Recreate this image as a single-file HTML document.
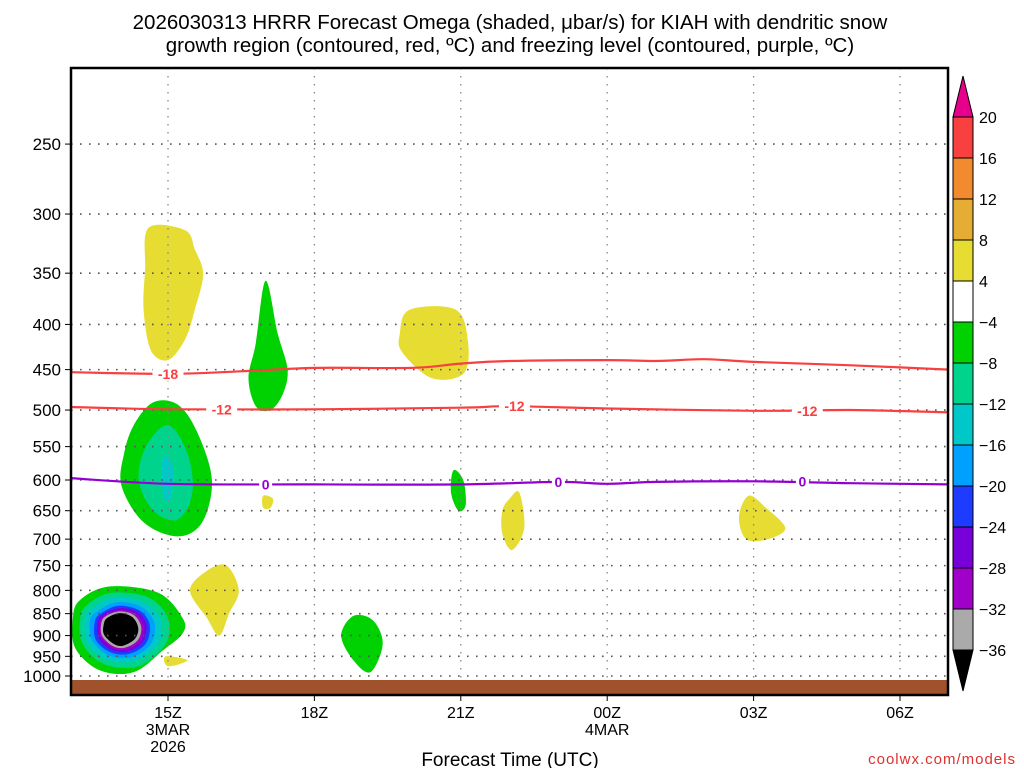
<!DOCTYPE html>
<html><head><meta charset="utf-8"><style>
html,body{margin:0;padding:0;background:#fff;}
svg text{font-family:"Liberation Sans",sans-serif;}
</style></head><body>
<svg id="chart" width="1024" height="768" viewBox="0 0 1024 768" xmlns="http://www.w3.org/2000/svg">
<text x="510" y="29" text-anchor="middle" font-size="20.5" fill="#000">2026030313 HRRR Forecast Omega (shaded, μbar/s) for KIAH with dendritic snow</text>
<text x="510" y="52" text-anchor="middle" font-size="20.5" fill="#000">growth region (contoured, red, ºC) and freezing level (contoured, purple, ºC)</text>
<g id="plot"></g>
<g id="grid"></g>
<g id="lines"></g>
<rect x="71" y="680" width="877" height="15" fill="#a0522d"/>
<rect x="71" y="68" width="877" height="627" fill="none" stroke="#000" stroke-width="2.5"/>
<g id="axes"></g>
<g id="cbar"></g>
<text x="510" y="766" text-anchor="middle" font-size="19" fill="#000">Forecast Time (UTC)</text>
<text x="1016" y="764" text-anchor="end" font-size="15" fill="#e03030" letter-spacing="1">coolwx.com/models</text>
</svg>
<script>
const pressureTicks=[250,300,350,400,450,500,550,600,650,700,750,800,850,900,950,1000];
const hourTicks=[15,18,21,24,27,30];
const hourLabels=["15Z","18Z","21Z","00Z","03Z","06Z"];
const cbarLevels=[20,16,12,8,4,-4,-8,-12,-16,-20,-24,-28,-32,-36];
const cbarColors=["#f94040","#f28a2e","#e6ad34","#e6dc32","#ffffff","#00d100","#00d48c","#00c8c8","#00a0ff","#1e3cff","#7800d8","#a000c8","#aaaaaa"];
// contour lines [hour, hPa]
const line18=[[13,453],[15,455],[16.5,452],[18,448],[20,448],[21,443],[22,440],[24,439],[25,440],[26,438],[27,441],[29,445],[31,450]];
const line12=[[13,496],[15,499],[18,499],[21,497],[22,495],[24,498],[27,501],[29,500],[31,503]];
const line0=[[13,597],[15,606],[18,607],[21,607],[23,603],[24,606],[25,603],[27,602],[29,605],[31,607]];
const lineLabels=[["-18",15,455,"#f94040"],["-12",16.1,499,"#f94040"],["-12",22.1,495,"#f94040"],["-12",28.1,501,"#f94040"],["0",17.0,607,"#9400d3"],["0",23.0,603,"#9400d3"],["0",28.0,602,"#9400d3"]];
// shaded blobs [color, points [hour,hPa]]
const blobs=[
 ["#e6dc32",[[14.6,311],[15.35,313],[15.55,329],[15.72,351],[15.55,385],[15.35,416],[15.0,439],[14.65,428],[14.5,385],[14.53,347]]],
 ["#00d100",[[17.0,357],[17.25,410],[17.45,450],[17.35,480],[17.1,500],[16.8,495],[16.65,460],[16.8,420]]],
 ["#e6dc32",[[19.95,385],[20.9,385],[21.15,420],[21.05,455],[20.4,460],[19.8,430],[19.75,410]]],
 ["#00d100",[[14.3,520],[14.7,490],[15.2,493],[15.6,530],[15.9,600],[15.7,670],[15.2,695],[14.5,670],[14.05,610],[14.1,560]]],
 ["#00d48c",[[14.55,550],[15.0,520],[15.4,560],[15.5,620],[15.2,665],[14.7,650],[14.4,600]]],
 ["#00c8c8",[[14.9,565],[15.1,580],[15.05,630],[14.9,625]]],
 ["#e6dc32",[[16.95,625],[17.15,630],[17.1,645],[16.95,645]]],
 ["#e6dc32",[[15.8,760],[16.2,750],[16.45,800],[16.25,850],[16.05,900],[15.8,860],[15.45,800]]],
 ["#00d100",[[20.85,585],[21.05,600],[21.1,640],[20.95,650],[20.8,620]]],
 ["#e6dc32",[[22.0,630],[22.2,620],[22.3,680],[22.05,720],[21.85,690],[21.85,650]]],
 ["#e6dc32",[[26.9,625],[27.25,645],[27.65,680],[27.3,700],[26.85,700],[26.7,660]]],
 ["#00d100",[[18.8,855],[19.2,865],[19.4,920],[19.15,990],[18.8,960],[18.55,900]]],
 ["#e6dc32",[[14.95,950],[15.4,960],[15.0,975]]],
 ["#00d100",[[13.2,820],[13.8,792],[14.8,805],[15.3,860],[15.3,895],[14.9,935],[14.3,990],[13.6,985],[13.1,930],[13.05,860]]],
 ["#00d48c",[[13.35,830],[13.85,805],[14.6,815],[15.0,860],[14.95,920],[14.4,975],[13.7,970],[13.25,920],[13.2,860]]],
 ["#00c8c8",[[13.45,838],[13.9,815],[14.5,825],[14.85,865],[14.8,920],[14.3,962],[13.75,958],[13.35,915],[13.3,862]]],
 ["#00a0ff",[[13.55,845],[13.95,825],[14.45,835],[14.72,870],[14.65,920],[14.25,952],[13.8,948],[13.45,912],[13.4,865]]],
 ["#1e3cff",[[13.62,850],[13.97,833],[14.4,842],[14.62,873],[14.55,918],[14.2,944],[13.82,940],[13.52,910],[13.5,868]]],
 ["#7800d8",[[13.66,852],[14.0,838],[14.37,846],[14.56,875],[14.48,916],[14.17,938],[13.84,934],[13.58,906],[13.56,870]]],
 ["#a000c8",[[13.69,855],[14.0,842],[14.33,850],[14.5,878],[14.43,913],[14.14,933],[13.86,929],[13.62,903],[13.6,872]]],
 ["#aaaaaa",[[13.71,857],[14.0,845],[14.3,853],[14.45,880],[14.38,911],[14.11,929],[13.87,925],[13.65,901],[13.63,874]]],
 ["#000000",[[13.75,860],[14.0,849],[14.26,857],[14.39,882],[14.32,908],[14.08,924],[13.89,920],[13.69,898],[13.68,876]]]
];
const NS="http://www.w3.org/2000/svg";
function xS(h){return 70.4+(h-13)*48.8;}
function yS(p){return 676-383.7*Math.log(1000/p);}
function mk(tag,attrs,parent){const e=document.createElementNS(NS,tag);for(const k in attrs)e.setAttribute(k,attrs[k]);parent.appendChild(e);return e;}
function smoothClosed(pts){
 const n=pts.length;let d='M'+pts[0][0].toFixed(1)+','+pts[0][1].toFixed(1);
 for(let i=0;i<n;i++){
  const p0=pts[(i-1+n)%n],p1=pts[i],p2=pts[(i+1)%n],p3=pts[(i+2)%n];
  const c1=[p1[0]+(p2[0]-p0[0])/6,p1[1]+(p2[1]-p0[1])/6],c2=[p2[0]-(p3[0]-p1[0])/6,p2[1]-(p3[1]-p1[1])/6];
  d+=' C'+c1.map(v=>v.toFixed(1)).join(',')+' '+c2.map(v=>v.toFixed(1)).join(',')+' '+p2[0].toFixed(1)+','+p2[1].toFixed(1);
 }
 return d+'Z';
}
function smoothOpen(pts){
 const n=pts.length;let d='M'+pts[0][0].toFixed(1)+','+pts[0][1].toFixed(1);
 for(let i=0;i<n-1;i++){
  const p0=pts[Math.max(i-1,0)],p1=pts[i],p2=pts[i+1],p3=pts[Math.min(i+2,n-1)];
  const c1=[p1[0]+(p2[0]-p0[0])/6,p1[1]+(p2[1]-p0[1])/6],c2=[p2[0]-(p3[0]-p1[0])/6,p2[1]-(p3[1]-p1[1])/6];
  d+=' C'+c1.map(v=>v.toFixed(1)).join(',')+' '+c2.map(v=>v.toFixed(1)).join(',')+' '+p2[0].toFixed(1)+','+p2[1].toFixed(1);
 }
 return d;
}
const plot=document.getElementById('plot'),grid=document.getElementById('grid'),lines=document.getElementById('lines'),axes=document.getElementById('axes'),cbar=document.getElementById('cbar');
blobs.forEach((b,i)=>{
 const d=smoothClosed(b[1].map(pt=>[xS(pt[0]),yS(pt[1])]));
 const e=mk('path',{d:d,fill:b[0]},plot);
 
 
});
pressureTicks.forEach(p=>{
 const y=yS(p);
 const l=mk('line',{x1:71,x2:948,y1:y,y2:y,stroke:'#555','stroke-width':1.6,'stroke-dasharray':'1.6 7.4'},grid);
 
 
 const t=mk('line',{x1:65,x2:71,y1:y,y2:y,stroke:'#000','stroke-width':1},axes);
 
 
 const tx=mk('text',{x:61,y:y+6,'text-anchor':'end','font-size':17,fill:'#000'},axes);
 tx.textContent=p;
 
 
});
hourTicks.forEach((h,i)=>{
 const x=xS(h);
 const l=mk('line',{x1:x,x2:x,y1:68,y2:695,stroke:'#888','stroke-width':1.3,'stroke-dasharray':'1.5 6.5'},grid);
 
 
 const t=mk('line',{x1:x,x2:x,y1:695,y2:701,stroke:'#000','stroke-width':1},axes);
 
 
 const tx=mk('text',{x:x,y:718,'text-anchor':'middle','font-size':16,fill:'#000'},axes);
 tx.textContent=hourLabels[i];
 
 
});
[["3MAR",15,735],["2026",15,752],["4MAR",24,735]].forEach(s=>{
 const tx=mk('text',{x:xS(s[1]),y:s[2],'text-anchor':'middle','font-size':16,fill:'#000'},axes);
 tx.textContent=s[0];
 
 
});
[[line18,'#f94040','contour-minus18'],[line12,'#f94040','contour-minus12'],[line0,'#9400d3','freezing-level-0']].forEach(L=>{
 const d=smoothOpen(L[0].map(pt=>[xS(pt[0]),yS(pt[1])]));
 const e=mk('path',{d:d,fill:'none',stroke:L[1],'stroke-width':2.2},lines);
 
 
});
lineLabels.forEach((lb,i)=>{
 const x=xS(lb[1]),y=yS(lb[2]);
 const w=lb[0].length*9+4;
 const r=mk('rect',{x:x-w/2,y:y-7,width:w,height:14,fill:'#fff'},lines);
 
 
 const t=mk('text',{x:x,y:y+5,'text-anchor':'middle','font-size':14,'font-weight':'bold',fill:lb[3]},lines);
 t.textContent=lb[0];
 
 
});
const cbX=953,cbW=20,cbTop=117,cbStep=41;
cbarColors.forEach((c,i)=>{
 const r=mk('rect',{x:cbX,y:cbTop+i*cbStep,width:cbW,height:cbStep,fill:c,stroke:'#000','stroke-width':1},cbar);
 
 
});
const up=mk('polygon',{points:`${cbX},${cbTop} ${cbX+cbW},${cbTop} ${cbX+cbW/2},${cbTop-41}`,fill:'#e6008c',stroke:'#000','stroke-width':1},cbar);


const bot=cbTop+cbarColors.length*cbStep;
const dn=mk('polygon',{points:`${cbX},${bot} ${cbX+cbW},${bot} ${cbX+cbW/2},${bot+41}`,fill:'#000',stroke:'#000','stroke-width':1},cbar);


cbarLevels.forEach((v,i)=>{
 const t=mk('text',{x:979,y:cbTop+i*cbStep+6,'font-size':16,fill:'#000'},cbar);
 t.textContent=(v<0?'\u2212':'')+Math.abs(v);
 
 
});
</script>
</body></html>
